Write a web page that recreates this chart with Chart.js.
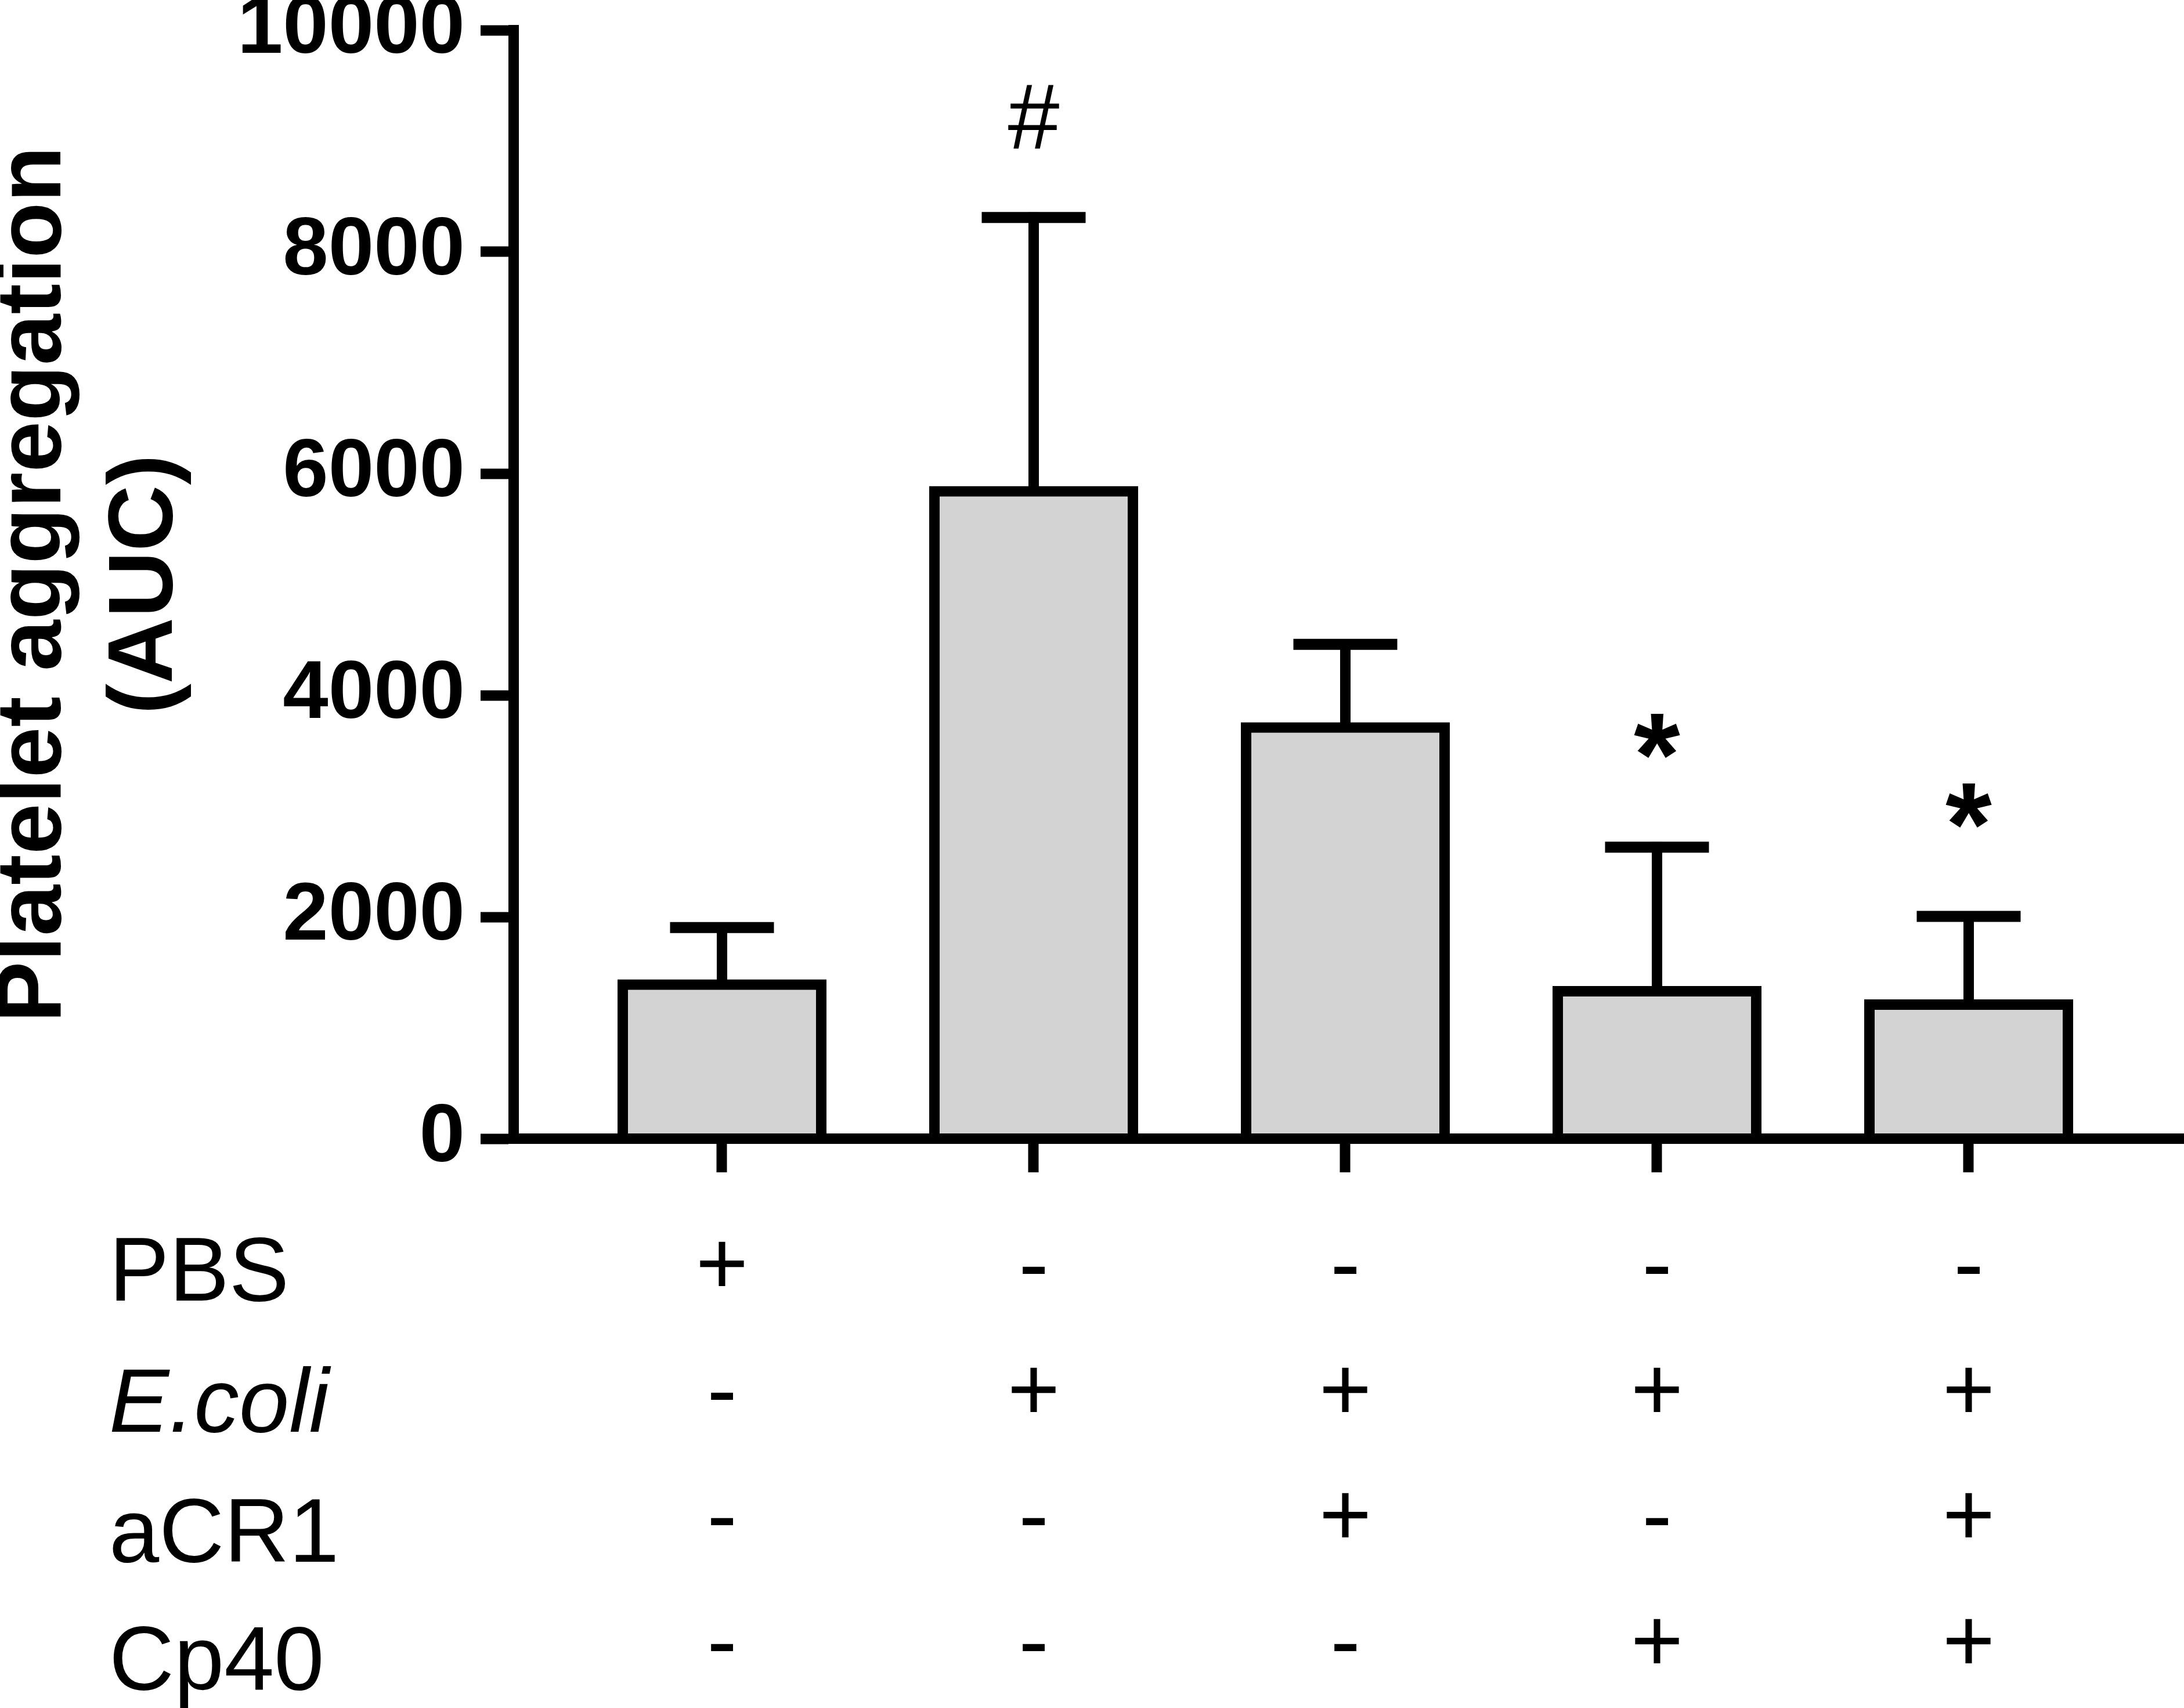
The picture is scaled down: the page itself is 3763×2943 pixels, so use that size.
<!DOCTYPE html>
<html><head><meta charset="utf-8">
<script src="https://cdn.jsdelivr.net/npm/chart.js@4.4.1/dist/chart.umd.min.js"></script>
<style>html,body{margin:0;padding:0;background:#fff;} canvas{display:block;}</style>
</head><body>
<canvas id="c" width="3763" height="2943" style="width:3763px;height:2943px"></canvas>
<script>
// ---- data ----
const categories = ['PBS', 'E.coli', 'E.coli + aCR1', 'E.coli + Cp40', 'E.coli + aCR1 + Cp40'];
const meanValues = [1390, 5840, 3710, 1330, 1210];
const semValues = [515, 2470, 750, 1300, 795];
const significance = ['', '#', '', '*', '*'];
const rowNames = ['PBS', 'E.coli', 'aCR1', 'Cp40'];
const pbsRow = ['+', '-', '-', '-', '-'];
const ecoliRow = ['-', '+', '+', '+', '+'];
const acr1Row = ['-', '-', '+', '-', '+'];
const cp40Row = ['-', '-', '-', '+', '+'];
const yTicks = [0, 2000, 4000, 6000, 8000, 10000];
const yTitle = ['Platelet aggregation', '(AUC)'];

// ---- styles ----
const FONT = '"Liberation Sans", Arial, Helvetica, sans-serif';
const headerBaselines = [279, 505, 729, 949];
const markStyles = {
  '#': { font: '160px ' + FONT, rise: 174 },
  '*': { font: 'bold 205px ' + FONT, rise: 191 }
};

const errorBarPlugin = {
  id: 'errorBars',
  afterDatasetsDraw(chart) {
    const ctx = chart.ctx, xs = chart.scales.x, ys = chart.scales.y;
    ctx.save();
    ctx.strokeStyle = '#000';
    ctx.lineCap = 'butt';
    meanValues.forEach((v, i) => {
      const x = xs.getPixelForValue(i);
      const y0 = ys.getPixelForValue(v);
      const y1 = ys.getPixelForValue(v + semValues[i]);
      ctx.lineWidth = 18;
      ctx.beginPath(); ctx.moveTo(x, y0); ctx.lineTo(x, y1 - 9); ctx.stroke();
      ctx.lineWidth = 19;
      ctx.beginPath(); ctx.moveTo(x - 89.5, y1); ctx.lineTo(x + 89.5, y1); ctx.stroke();
    });
    // significance marks
    ctx.fillStyle = '#000';
    ctx.textAlign = 'center';
    ctx.textBaseline = 'alphabetic';
    significance.forEach((s, i) => {
      if (!s) return;
      const st = markStyles[s];
      const x = xs.getPixelForValue(i);
      const cy = ys.getPixelForValue(meanValues[i] + semValues[i]) - st.rise;
      ctx.font = st.font;
      const m = ctx.measureText(s);
      ctx.fillText(s, x, cy + (m.actualBoundingBoxAscent - m.actualBoundingBoxDescent) / 2);
    });
    ctx.restore();
  }
};

const rowHeaderPlugin = {
  id: 'rowHeaders',
  afterDraw(chart) {
    const ctx = chart.ctx, top = chart.scales.x.top;
    ctx.save();
    ctx.fillStyle = '#000';
    ctx.textAlign = 'left';
    ctx.textBaseline = 'alphabetic';
    rowNames.forEach((name, r) => {
      ctx.font = (r === 1 ? 'italic ' : '') + '155px ' + FONT;
      ctx.fillText(name, 188, top + headerBaselines[r]);
    });
    ctx.restore();
  }
};

new Chart(document.getElementById('c'), {
  type: 'bar',
  data: {
    datasets: [{
      label: 'Platelet aggregation',
      data: meanValues.map((v, i) => ({ x: i, y: v })),
      backgroundColor: '#d3d3d3',
      borderColor: '#000',
      borderWidth: 18,
      borderSkipped: 'bottom',
      inflateAmount: 9,
      barThickness: 342,
      clip: false
    }]
  },
  options: {
    responsive: false,
    devicePixelRatio: 1,
    animation: false,
    layout: { padding: { top: 52, left: 0, right: 0, bottom: 0 } },
    plugins: { legend: { display: false }, tooltip: { enabled: false } },
    scales: {
      x: {
        type: 'linear',
        min: -0.6685,
        max: 4.6909,
        offset: false,
        afterBuildTicks: s => { s.ticks = categories.map((c, i) => ({ value: i })); },
        afterFit: s => { s.height = 981; s.paddingLeft = 0; s.paddingRight = 0; },
        grid: { offset: false, drawOnChartArea: false, drawTicks: true, tickLength: 58, tickWidth: 18, tickColor: '#000', color: '#000' },
        border: { display: true, color: '#000', width: 18, z: 1 },
        ticks: {
          autoSkip: false, maxRotation: 0, minRotation: 0, padding: 59, color: '#000',
          font: { family: FONT, size: 155, lineHeight: 1.398 },
          callback: (v, i) => [pbsRow[i], ecoliRow[i], acr1Row[i], cp40Row[i]]
        }
      },
      y: {
        min: 0,
        max: 10000,
        afterBuildTicks: s => { s.ticks = yTicks.map(v => ({ value: v })); },
        afterFit: s => { s.width = 885; s.paddingTop = 0; s.paddingBottom = 0; },
        grid: { drawOnChartArea: false, drawTicks: true, tickLength: 57, tickWidth: 18, tickColor: '#000', color: '#000' },
        border: { display: true, color: '#000', width: 18, z: 1 },
        ticks: {
          padding: 27, color: '#000',
          font: { family: FONT, size: 141, weight: 'bold', lineHeight: 1 },
          callback: v => String(v)
        },
        title: {
          display: true, text: yTitle, color: '#000',
          font: { family: FONT, size: 158, weight: 'bold', lineHeight: 1.215 },
          padding: { top: -36, bottom: 0 }
        }
      }
    }
  },
  plugins: [errorBarPlugin, rowHeaderPlugin]
});
</script>
</body></html>
